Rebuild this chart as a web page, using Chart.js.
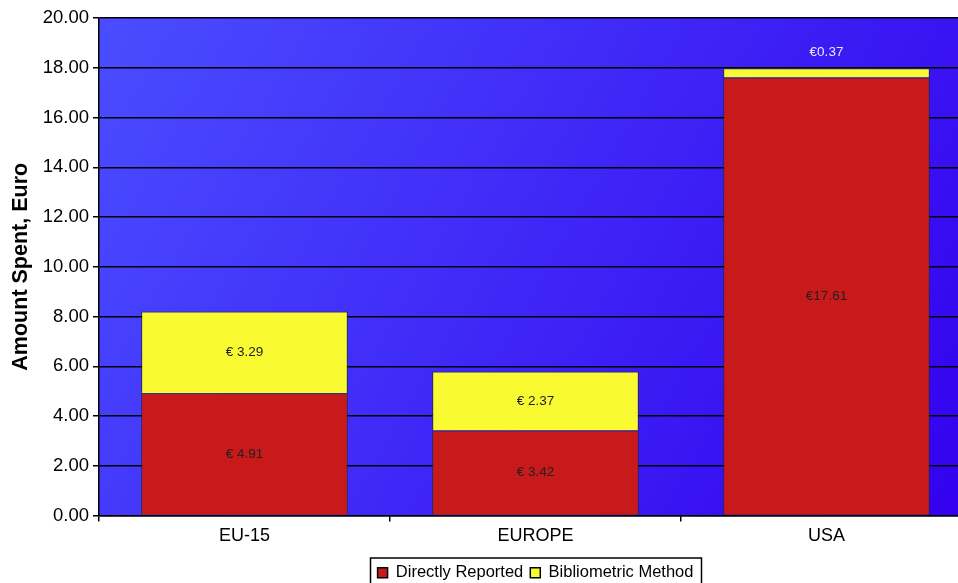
<!DOCTYPE html>
<html>
<head>
<meta charset="utf-8">
<script src="https://cdn.jsdelivr.net/npm/chart.js@4"></script>
<style>
  html, body { margin: 0; padding: 0; background: #fff; overflow: hidden; }
  #wrap { position: absolute; left: 0; top: 0; width: 975px; height: 591px; }
</style>
</head>
<body>
<div id="wrap"><canvas id="spendChart"></canvas></div>
<script>
const regions = ['EU-15', 'EUROPE', 'USA'];
const directlyReported = [4.91, 3.42, 17.61];
const bibliometric = [3.29, 2.37, 0.37];
const directLabels = ['€ ', '€ ', '€'];   // prefix used in the bar labels
const biblioLabels = ['€ ', '€ ', '€'];
const yTicks = [0, 2, 4, 6, 8, 10, 12, 14, 16, 18, 20];

// blue gradient behind the plot
const plotBackground = {
    id: 'plotBackground',
    beforeDraw(chart) {
        const { ctx, chartArea: a } = chart;
        const g = ctx.createLinearGradient(a.left, a.top, a.right, a.bottom);
        g.addColorStop(0, '#4a4dff');
        g.addColorStop(1, '#3300ee');
        ctx.save();
        ctx.fillStyle = g;
        ctx.fillRect(a.left, a.top, a.right - a.left, a.bottom - a.top);
        ctx.restore();
    }
};

// value labels inside the bars, the thin USA slice gets its label above
const barLabels = {
    id: 'barLabels',
    afterDatasetsDraw(chart) {
        const ctx = chart.ctx;
        ctx.save();
        ctx.font = '13.5px "Liberation Sans", Arial, sans-serif';
        ctx.textAlign = 'center';
        ctx.textBaseline = 'middle';
        chart.data.datasets.forEach((ds, di) => {
            chart.getDatasetMeta(di).data.forEach((bar, i) => {
                const v = ds.data[i];
                const text = ds.prefixes[i] + v.toFixed(2);
                const h = bar.base - bar.y;
                if (h < 20) {
                    ctx.fillStyle = '#e8e8ff';
                    ctx.fillText(text, bar.x, bar.y - 16);
                } else {
                    ctx.fillStyle = '#222';
                    ctx.fillText(text, bar.x, bar.y + h / 2);
                }
            });
        });
        ctx.restore();
    }
};

// legend sits under the plot centre, inside a frame
const legendFrame = {
    id: 'legendFrame',
    afterLayout(chart) {
        const l = chart.legend;
        const a = chart.chartArea;
        const shift = (a.left + a.right) / 2 - (l.left + l.right) / 2;
        l.left += shift;
        l.right += shift;
    },
    afterDraw(chart) {
        const l = chart.legend;
        if (!l) return;
        const ctx = chart.ctx;
        ctx.save();
        ctx.strokeStyle = '#000';
        ctx.lineWidth = 1.5;
        const w = 331, x = Math.round((l.left + l.right) / 2 - w / 2);
        ctx.strokeRect(x + 0.5, l.top + 0.5, w, l.bottom - l.top + 10);
        ctx.restore();
    }
};

const font = '"Liberation Sans", Arial, sans-serif';

const ctx = document.getElementById('spendChart').getContext('2d');
new Chart(ctx, {
    type: 'bar',
    data: {
        labels: regions,
        datasets: [{
            label: 'Directly Reported',
            data: directlyReported,
            prefixes: directLabels,
            backgroundColor: '#c8191b',
            borderColor: '#2a2a2a',
            borderWidth: 1
        }, {
            label: 'Bibliometric Method',
            data: bibliometric,
            prefixes: biblioLabels,
            backgroundColor: '#fafa32',
            borderColor: '#2a2a2a',
            borderWidth: 1
        }]
    },
    options: {
        responsive: true,
        maintainAspectRatio: false,
        animation: false,
        layout: { padding: { top: 18, left: 0, right: 3, bottom: 0 } },
        datasets: { bar: { barPercentage: 0.71, categoryPercentage: 1 } },
        scales: {
            x: {
                stacked: true,
                grid: { drawOnChartArea: false, color: '#000', lineWidth: 1.5, tickLength: 6 },
                border: { color: '#000', width: 1.5 },
                ticks: { color: '#000', font: { family: font, size: 18 }, padding: 4 },
                afterFit(scale) { scale.height = 42; }
            },
            y: {
                stacked: true,
                min: 0,
                max: 20,
                afterBuildTicks(scale) { scale.ticks = yTicks.map(v => ({ value: v })); },
                grid: { color: '#000', lineWidth: 1.5, tickLength: 6 },
                border: { color: '#000', width: 1.5 },
                ticks: {
                    color: '#000',
                    font: { family: font, size: 18.5 },
                    padding: 4,
                    callback: v => Number(v).toFixed(2)
                },
                title: {
                    display: true,
                    text: 'Amount Spent, Euro',
                    color: '#000',
                    font: { family: font, size: 21.5, weight: 'bold' },
                    padding: { top: 8, bottom: 4 }
                },
                afterFit(scale) { scale.width = 99; }
            }
        },
        plugins: {
            legend: {
                position: 'bottom',
                labels: {
                    color: '#000',
                    font: { family: font, size: 16.5 },
                    boxWidth: 10,
                    boxHeight: 10,
                    padding: 7,
                    useBorderRadius: false,
                    generateLabels(chart) {
                        return chart.data.datasets.map((ds, i) => ({
                            text: ds.label,
                            fillStyle: ds.backgroundColor,
                            strokeStyle: '#000',
                            lineWidth: 1.5,
                            datasetIndex: i,
                            fontColor: '#000'
                        }));
                    }
                }
            },
            tooltip: { enabled: false }
        }
    },
    plugins: [plotBackground, barLabels, legendFrame]
});
</script>
</body>
</html>
